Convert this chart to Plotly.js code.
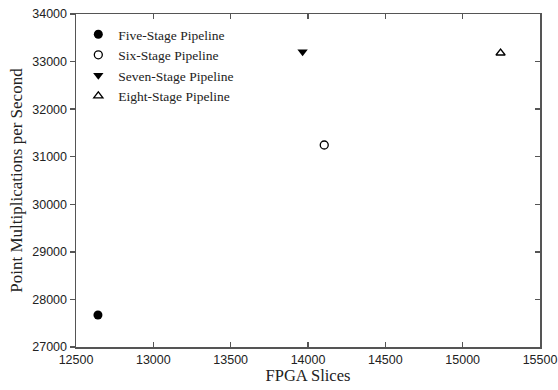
<!DOCTYPE html>
<html><head><meta charset="utf-8">
<script src="https://cdn.plot.ly/plotly-3.0.1.min.js"></script>
<style>html,body{margin:0;padding:0;background:#fff}#chart{width:558px;height:390px}</style>
</head><body><div id="chart"></div>
<script>
const seriesNames = ["Five-Stage Pipeline","Six-Stage Pipeline","Seven-Stage Pipeline","Eight-Stage Pipeline"];
const slices = [12642, 14105, 13965, 15245];
const pointMults = [27673, 31246, 33208, 33180];
const symbols = ["circle","circle-open","triangle-down","triangle-up-open"];
const xTicks = [12500,13000,13500,14000,14500,15000,15500];
const yTicks = [27000,28000,29000,30000,31000,32000,33000,34000];

const traces = seriesNames.map((n,i)=>({
  type:'scatter', mode:'markers', name:n,
  x:[slices[i]], y:[pointMults[i]],
  marker:{symbol:symbols[i], size:(i===1||i===3)?8:9, color:'#000', line:{color:'#000', width:(i===1||i===3)?1.3:0}}
}));
traces.push({type:'scatter', x:[], y:[], yaxis:'y2', showlegend:false, hoverinfo:'skip'});

const serif = 'Liberation Serif, Times New Roman, serif';
const axisCommon = {showgrid:false, zeroline:false, linecolor:'#555', linewidth:1.5, tickcolor:'#555', ticklen:5, tickwidth:1.3,
  tickfont:{family:'Liberation Sans, Arial, sans-serif', size:12.5, color:'#222'}};

Plotly.newPlot('chart', traces, {
  width:558, height:390,
  margin:{l:76, r:18, t:14, b:43},
  paper_bgcolor:'#fff', plot_bgcolor:'#fff',
  showlegend:true,
  legend:{x:0.005, y:0.985, xanchor:'left', yanchor:'top', bgcolor:'rgba(0,0,0,0)',
    font:{family:serif, size:13.5, color:'#222'}, itemwidth:30, tracegroupgap:0},
  xaxis:Object.assign({}, axisCommon, {range:[12500,15500], tickvals:xTicks, ticktext:xTicks.map(String), ticks:'inside', mirror:'ticks', showline:true,
    title:{text:'FPGA Slices', font:{family:serif, size:16.5, color:'#222'}, standoff:4}}),
  yaxis:Object.assign({}, axisCommon, {range:[27000,34000], tickvals:yTicks, ticktext:yTicks.map(String), ticks:'outside', showline:true,
    title:{text:'Point Multiplications per Second', font:{family:serif, size:17, color:'#222'}, standoff:5}}),
  yaxis2:Object.assign({}, axisCommon, {range:[27000,34000], tickvals:yTicks, overlaying:'y', side:'right', ticks:'inside', showticklabels:false, showline:true})
}, {displayModeBar:false, staticPlot:true});
</script></body></html>
